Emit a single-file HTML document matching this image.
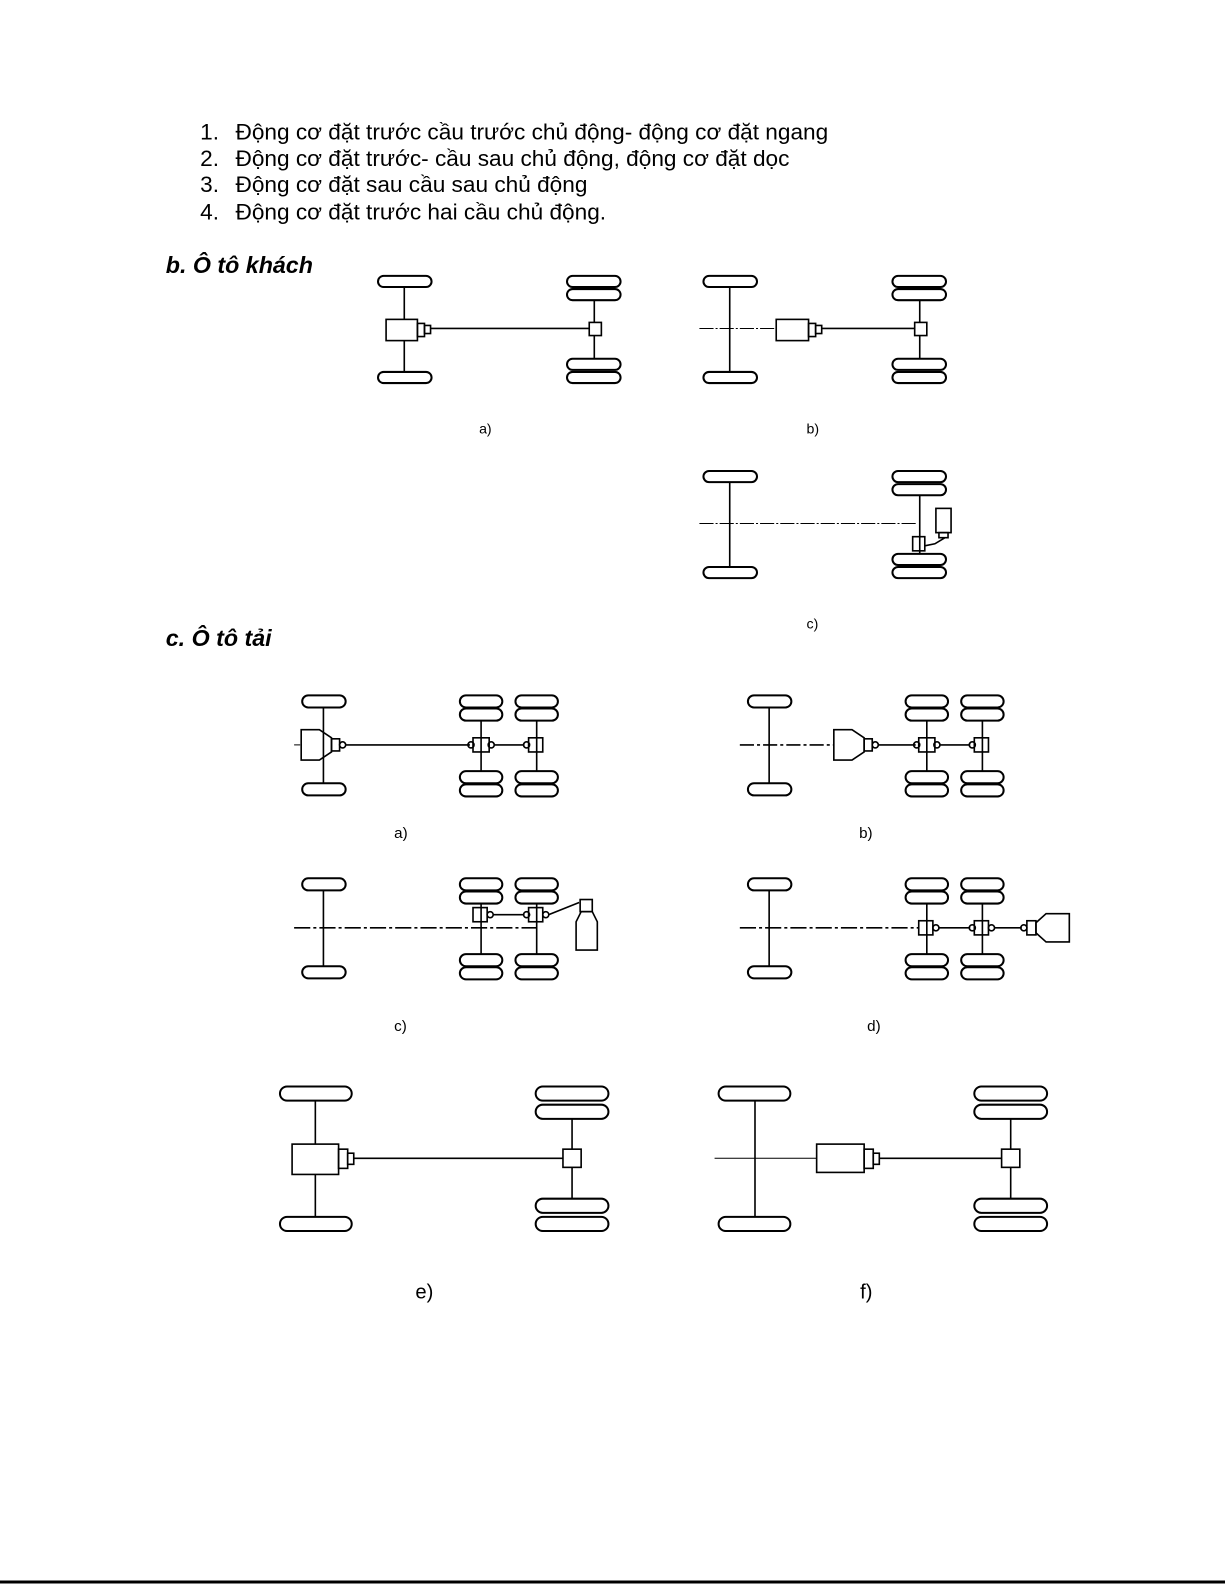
<!DOCTYPE html>
<html><head><meta charset="utf-8"><style>
body{margin:0;background:#fff;}
svg{display:block}
</style></head><body>
<svg width="1225" height="1585" viewBox="0 0 1225 1585" xmlns="http://www.w3.org/2000/svg">
<g transform="scale(1.0107)">
<g font-family="Liberation Sans, sans-serif" fill="#000">
<text x="198" y="138" font-size="22.4">1.</text><text x="233" y="138" font-size="22.4">Động cơ đặt trước cầu trước chủ động- động cơ đặt ngang</text>
<text x="198" y="164" font-size="22.4">2.</text><text x="233" y="164" font-size="22.4">Động cơ đặt trước- cầu sau chủ động, động cơ đặt dọc</text>
<text x="198" y="190" font-size="22.4">3.</text><text x="233" y="190" font-size="22.4">Động cơ đặt sau cầu sau chủ động</text>
<text x="198" y="217" font-size="22.4">4.</text><text x="233" y="217" font-size="22.4">Động cơ đặt trước hai cầu chủ động.</text>
<text x="164" y="270" font-size="23" font-weight="bold" font-style="italic">b. Ô tô khách</text>
<text x="164" y="639" font-size="23" font-weight="bold" font-style="italic">c. Ô tô tải</text>
<text x="474" y="429" font-size="14">a)</text>
<text x="798" y="429" font-size="14">b)</text>
<text x="798" y="622" font-size="14">c)</text>
<text x="390" y="829" font-size="15">a)</text>
<text x="850" y="829" font-size="15">b)</text>
<text x="390" y="1020" font-size="15">c)</text>
<text x="858" y="1020" font-size="15">d)</text>
<text x="411" y="1285" font-size="20">e)</text>
<text x="851" y="1285" font-size="20">f)</text>
</g>
<g fill="none" stroke="#000" stroke-width="1.6">
<g stroke-width="2">
<rect x="374" y="273" width="53" height="11" rx="5.5"/><rect x="374" y="368" width="53" height="11" rx="5.5"/>
<rect x="561" y="273" width="53" height="11" rx="5.5"/><rect x="561" y="286" width="53" height="11" rx="5.5"/>
<rect x="561" y="355" width="53" height="11" rx="5.5"/><rect x="561" y="368" width="53" height="11" rx="5.5"/>
<rect x="696" y="273" width="53" height="11" rx="5.5"/><rect x="696" y="368" width="53" height="11" rx="5.5"/>
<rect x="883" y="273" width="53" height="11" rx="5.5"/><rect x="883" y="286" width="53" height="11" rx="5.5"/>
<rect x="883" y="355" width="53" height="11" rx="5.5"/><rect x="883" y="368" width="53" height="11" rx="5.5"/>
<rect x="696" y="466" width="53" height="11" rx="5.5"/><rect x="696" y="561" width="53" height="11" rx="5.5"/>
<rect x="883" y="466" width="53" height="11" rx="5.5"/><rect x="883" y="479" width="53" height="11" rx="5.5"/>
<rect x="883" y="548" width="53" height="11" rx="5.5"/><rect x="883" y="561" width="53" height="11" rx="5.5"/>
</g>
<line x1="400" y1="284" x2="400" y2="316"/><line x1="400" y1="337" x2="400" y2="368"/>
<rect x="382" y="316" width="31" height="21"/><rect x="413" y="320" width="7" height="13"/><rect x="420" y="322" width="6" height="8"/>
<line x1="426" y1="325" x2="583" y2="325"/><rect x="583" y="319" width="12" height="13"/>
<line x1="588" y1="297" x2="588" y2="319"/><line x1="588" y1="332" x2="588" y2="355"/>
<line x1="722" y1="284" x2="722" y2="368"/>
<line x1="692" y1="325" x2="768" y2="325" stroke-dasharray="14,2,2,2" stroke-width="1"/>
<rect x="768" y="316" width="32" height="21"/><rect x="800" y="320" width="7" height="13"/><rect x="807" y="322" width="6" height="8"/>
<line x1="813" y1="325" x2="905" y2="325"/><rect x="905" y="319" width="12" height="13"/>
<line x1="910" y1="297" x2="910" y2="319"/><line x1="910" y1="332" x2="910" y2="355"/>
<line x1="722" y1="477" x2="722" y2="561"/>
<line x1="692" y1="518" x2="908" y2="518" stroke-dasharray="14,2,2,2" stroke-width="1"/>
<line x1="910" y1="490" x2="910" y2="548"/>
<rect x="903" y="531" width="12" height="14"/><polyline points="915,540 925,538 935,532"/>
<rect x="926" y="503" width="15" height="24"/><rect x="929" y="527" width="9" height="5"/>
<g id="ta">
<g stroke-width="2">
<rect x="299" y="688" width="43" height="12" rx="6"/><rect x="299" y="775" width="43" height="12" rx="6"/>
<rect x="455" y="688" width="42" height="12" rx="6"/><rect x="455" y="701" width="42" height="12" rx="6"/>
<rect x="455" y="763" width="42" height="12" rx="6"/><rect x="455" y="776" width="42" height="12" rx="6"/>
<rect x="510" y="688" width="42" height="12" rx="6"/><rect x="510" y="701" width="42" height="12" rx="6"/>
<rect x="510" y="763" width="42" height="12" rx="6"/><rect x="510" y="776" width="42" height="12" rx="6"/>
</g>
<line x1="320" y1="700" x2="320" y2="775"/>
<line x1="476" y1="713" x2="476" y2="763"/><line x1="531" y1="713" x2="531" y2="763"/>
</g>
<path d="M298 722 H316 L328 730 V744 L316 752 H298 Z"/><rect x="328" y="731" width="8" height="12"/><circle cx="339" cy="737" r="3"/>
<line x1="291" y1="737" x2="298" y2="737" stroke-dasharray="6,2,2,2" stroke-width="1"/>
<line x1="342" y1="737" x2="465" y2="737"/>
<circle cx="466" cy="737" r="3"/><rect x="468" y="730" width="16" height="14"/><circle cx="486" cy="737" r="3"/>
<line x1="489" y1="737" x2="519" y2="737"/><circle cx="521" cy="737" r="3"/><rect x="523" y="730" width="14" height="14"/>
<use href="#ta" transform="translate(441,0)"/>
<line x1="732" y1="737" x2="825" y2="737" stroke-dasharray="14,3,3,3"/>
<path d="M825 722 H843 L855 730 V744 L843 752 H825 Z"/><rect x="855" y="731" width="8" height="12"/><circle cx="866" cy="737" r="3"/>
<line x1="869" y1="737" x2="906" y2="737"/>
<circle cx="907" cy="737" r="3"/><rect x="909" y="730" width="16" height="14"/><circle cx="927" cy="737" r="3"/>
<line x1="930" y1="737" x2="960" y2="737"/><circle cx="962" cy="737" r="3"/><rect x="964" y="730" width="14" height="14"/>
<use href="#ta" transform="translate(0,181)"/>
<line x1="291" y1="918" x2="531" y2="918" stroke-dasharray="16,3,3,3"/>
<rect x="468" y="898" width="14" height="14"/><circle cx="485" cy="905" r="3"/>
<line x1="488" y1="905" x2="519" y2="905"/><circle cx="521" cy="905" r="3"/><rect x="523" y="898" width="14" height="14"/><circle cx="540" cy="905" r="3"/>
<line x1="543" y1="905" x2="573" y2="893"/>
<rect x="574" y="890" width="12" height="12"/><path d="M575 902 H586 L591 912 V940 H570 V912 Z"/>
<use href="#ta" transform="translate(441,181)"/>
<line x1="732" y1="918" x2="909" y2="918" stroke-dasharray="16,3,3,3"/>
<rect x="909" y="911" width="14" height="14"/><circle cx="926" cy="918" r="3"/>
<line x1="929" y1="918" x2="960" y2="918"/><circle cx="962" cy="918" r="3"/><rect x="964" y="911" width="14" height="14"/><circle cx="981" cy="918" r="3"/>
<line x1="984" y1="918" x2="1011" y2="918"/><circle cx="1013" cy="918" r="3"/><rect x="1016" y="911" width="9" height="14"/>
<path d="M1025 913 L1035 904 H1058 V932 H1035 L1025 923 Z"/>
<g id="fe">
<g stroke-width="2">
<rect x="277" y="1075" width="71" height="14" rx="7"/><rect x="277" y="1204" width="71" height="14" rx="7"/>
<rect x="530" y="1075" width="72" height="14" rx="7"/><rect x="530" y="1093" width="72" height="14" rx="7"/>
<rect x="530" y="1186" width="72" height="14" rx="7"/><rect x="530" y="1204" width="72" height="14" rx="7"/>
</g>
<rect x="557" y="1137" width="18" height="18"/>
<line x1="566" y1="1107" x2="566" y2="1137"/><line x1="566" y1="1155" x2="566" y2="1186"/>
</g>
<line x1="312" y1="1089" x2="312" y2="1132"/><line x1="312" y1="1162" x2="312" y2="1204"/>
<rect x="289" y="1132" width="46" height="30"/><rect x="335" y="1137" width="9" height="19"/><rect x="344" y="1141" width="6" height="11"/>
<line x1="350" y1="1146" x2="557" y2="1146"/>
<use href="#fe" transform="translate(434,0)"/>
<line x1="747" y1="1089" x2="747" y2="1204"/>
<line x1="707" y1="1146" x2="808" y2="1146" stroke-width="1"/>
<rect x="808" y="1132" width="47" height="28"/><rect x="855" y="1137" width="9" height="19"/><rect x="864" y="1141" width="6" height="11"/>
<line x1="870" y1="1146" x2="991" y2="1146"/>
</g>
</g>
<line x1="0" y1="1582" x2="1225" y2="1582" stroke="#000" stroke-width="3"/>
</svg>
</body></html>
